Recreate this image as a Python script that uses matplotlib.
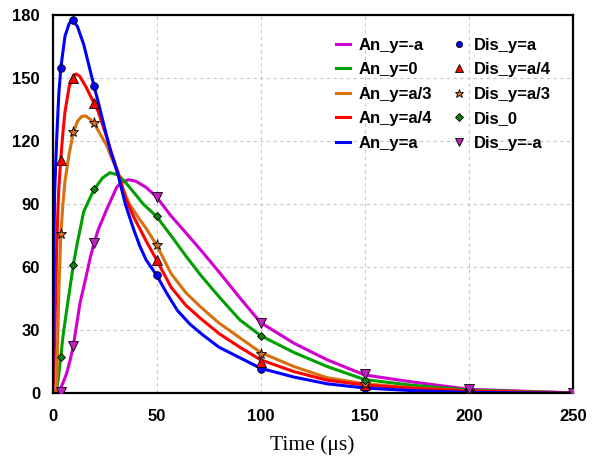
import matplotlib
matplotlib.use("Agg")
import matplotlib.pyplot as plt

# analytic curves
t_blue = [0, 0.5, 1, 2, 3, 4, 6, 8, 9.7, 12, 15, 18, 20, 22, 24, 26, 28, 31.5, 35, 39, 42, 45, 50, 55, 60, 66, 72, 80, 90, 100, 116, 132, 150, 172, 200, 250]
an_blue = [0, 55, 95, 121, 142, 155, 170, 176, 177.6, 174.5, 166, 154, 146, 138.5, 130.5, 122.5, 115, 104, 90, 78, 70, 63.5, 56.3, 47.5, 39.5, 33, 28, 22, 17, 12, 7.8, 4.6, 2.6, 1.4, 0.5, 0.1]

t_red = [0, 0.5, 1, 2, 2.5, 3, 4, 5, 6, 8, 10, 11.3, 13, 16, 20, 22, 24, 26, 28, 31.5, 35, 39, 42, 45, 50, 57, 64, 71, 80, 90, 100, 116, 132, 150, 172, 200, 250]
an_red = [0, 5, 25, 68, 85, 97, 112, 124, 134, 146, 150.8, 152, 151, 146, 138, 134, 128, 122, 115.5, 105, 93, 84, 78.3, 72.5, 63.5, 50.5, 42, 35.8, 28.5, 22, 16, 10.4, 6.3, 4, 2.6, 1.1, 0.2]

t_orange = [0, 1, 2, 3, 4, 5, 6, 8, 10, 12, 14, 16, 18, 20, 22, 24, 26, 28, 31.5, 34, 37, 41, 45, 50, 57, 64, 71, 80, 90, 100, 116, 132, 150, 172, 200, 250]
an_orange = [0, 0, 3, 48, 76, 90, 101, 114, 124, 129.5, 131.8, 132, 130.5, 128.5, 125, 121.5, 118, 113, 105, 97, 90, 84, 78.5, 70.6, 57, 48, 41.3, 33.5, 26.5, 19.5, 12.8, 7.5, 4.6, 2.8, 1.2, 0.2]

t_green = [0, 1, 2, 3, 4, 5, 7, 8.5, 10, 12, 15, 18, 20, 24, 27.6, 31.5, 35, 40, 43.7, 50, 57, 64, 71, 80, 90, 100, 116, 132, 150, 172, 200, 250]
an_green = [0, 0, 1, 9, 17.5, 27, 41, 51, 61.2, 72, 86.5, 93, 97, 102.5, 105, 104, 100.5, 94.5, 90, 84.2, 75, 65.5, 56.5, 46, 35, 27.5, 19.5, 12.8, 6.6, 4, 1.6, 0.3]

t_mag = [0, 2, 3, 3.6, 5, 6.8, 8.5, 10, 13.2, 16, 18, 20, 22, 26, 30.9, 33, 36.5, 40, 45, 50, 56.5, 64, 71, 80.5, 90, 100, 116, 132, 150, 172, 200, 250]
an_mag = [0, 0, 0.3, 1.7, 5, 9.6, 16, 22.6, 43, 55, 64, 71.8, 78, 87.5, 98.2, 100.3, 101.7, 101, 98, 93.5, 85, 76.5, 68.5, 57.2, 45.5, 33.7, 23.9, 16, 8.8, 5.6, 2, 0.3]

# discrete points
t_dis = [4, 10, 20, 50, 100, 150, 200, 250]
dis_blue = [155, 177.6, 146.2, 56.3, 11.8, 2.6, 0.5, 0.1]
dis_red = [111, 150, 138.2, 63.5, 15.2, 4, 1, 0.2]
dis_orange = [76, 124.4, 128.5, 70.6, 18.8, 4.4, 1.2, 0.2]
dis_green = [17.5, 61.2, 97.2, 84.4, 27.5, 6.4, 1.5, 0.3]
dis_mag = [0.9, 22.6, 71.8, 93.5, 33.7, 9.1, 2, 0.4]

c_mag = '#d000d0'
c_green = '#00a000'
c_orange = '#d87010'
c_red = '#ff0000'
c_blue = '#0000ff'

fig = plt.figure(figsize=(5.92, 4.57), dpi=100)
ax = fig.add_axes([0.0887, 0.139, 0.879, 0.828])

lw = 2.2
ax.plot(t_mag, an_mag, color=c_mag, lw=lw, label='An_y=-a')
ax.plot(t_green, an_green, color=c_green, lw=lw, label='An_y=0')
ax.plot(t_orange, an_orange, color=c_orange, lw=lw, label='An_y=a/3')
ax.plot(t_red, an_red, color=c_red, lw=lw, label='An_y=a/4')
ax.plot(t_blue, an_blue, color=c_blue, lw=lw, label='An_y=a')

mk = dict(ls='none', markeredgecolor='black', markeredgewidth=0.6, zorder=5)
ax.plot(t_dis, dis_blue, marker='o', ms=5.5, color='#0000ff', label='Dis_y=a', **mk)
ax.plot(t_dis, dis_red, marker='^', ms=6.5, color='#ff0000', label='Dis_y=a/4', **mk)
ax.plot(t_dis, dis_orange, marker='*', ms=8, color='#d07020', label='Dis_y=a/3', **mk)
ax.plot(t_dis, dis_green, marker='D', ms=4.5, color='#108010', label='Dis_0', **mk)
ax.plot(t_dis, dis_mag, marker='v', ms=6.5, color='#c020c0', label='Dis_y=-a', **mk)

ax.set_xlim(0, 250)
ax.set_ylim(0, 180)
ax.set_xticks([0, 50, 100, 150, 200, 250])
ax.set_yticks([0, 30, 60, 90, 120, 150, 180])
ax.grid(True, color='#c8c8c8', ls=(0, (3, 3)), lw=0.8)
ax.set_axisbelow(True)
for s in ax.spines.values():
    s.set_linewidth(1.6)
ax.tick_params(length=0)
ax.tick_params(axis='y', pad=9)
ax.tick_params(axis='x', pad=11)
for lab in ax.get_xticklabels() + ax.get_yticklabels():
    lab.set_fontfamily('Liberation Sans')
    lab.set_fontweight('bold')
    lab.set_fontsize(12)

ax.set_xlabel('Time (μs)', fontfamily='Liberation Serif', fontsize=15.5, labelpad=8)

ax.legend(ncol=2, loc='upper left', bbox_to_anchor=(0.544, 0.94), frameon=False,
          prop={'family': 'Liberation Sans', 'weight': 'bold', 'size': 12},
          handlelength=0.85, handletextpad=0.5, columnspacing=1.2,
          labelspacing=0.57, borderpad=0, borderaxespad=0, markerscale=0.8)

fig.savefig('out.png', dpi=100)
